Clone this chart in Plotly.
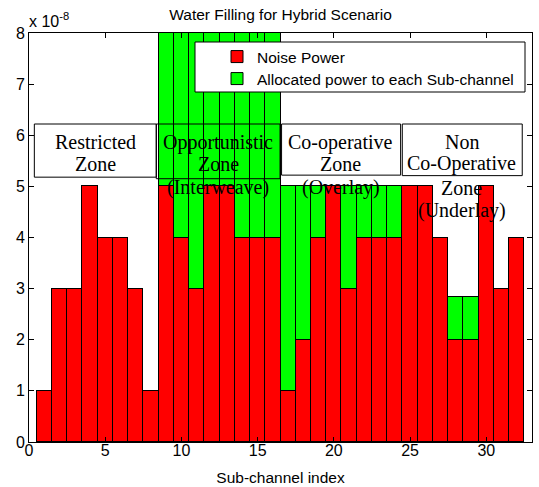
import plotly.graph_objects as go

# ---- data (units of 1e-8) ----
subchannels = list(range(1, 33))
noise_power = [1, 3, 3, 5, 4, 4, 3, 1,
               5, 4, 3, 5, 5, 4, 4, 4,
               1, 2, 4, 5, 3, 4, 4, 4,
               5, 5, 4, 2, 2, 5, 3, 4]
allocated_power = [0, 0, 0, 0, 0, 0, 0, 0,
                   3.6, 4.6, 5.6, 3.6, 3.6, 4.6, 4.6, 4.6,
                   4, 3, 1, 0, 2, 1, 1, 1,
                   0, 0, 0, 0.83, 0.83, 0, 0, 0]
x_ticks = [0, 5, 10, 15, 20, 25, 30]
y_ticks = [0, 1, 2, 3, 4, 5, 6, 7, 8]

# zone label boxes: (x0, x1, y0, y1) in data units, and text lines
zone_boxes = [(0.35, 8.35, 5.18, 6.22),
              (8.35, 16.47, 5.15, 6.22),
              (16.57, 24.38, 5.22, 6.22),
              (24.49, 32.36, 5.21, 6.22)]
zone_lines = [["Restricted", "Zone"],
              ["Opportunistic", "Zone", "(Interweave)"],
              ["Co-operative", "Zone", "(Overlay)"],
              ["Non", "Co-Operative", "Zone", "(Underlay)"]]
zone_centers = [4.35, 12.4, 20.45, 28.4]
line_y = [5.86, 5.44, 4.97, 4.52]

fig = go.Figure()
fig.add_trace(go.Bar(x=subchannels, y=noise_power, name="Noise Power",
                     marker=dict(color="#FF0000", line=dict(color="black", width=1)),
                     legend="legend"))
fig.add_trace(go.Bar(x=subchannels, y=allocated_power,
                     name="Allocated power to each Sub-channel",
                     marker=dict(color="#00FF00", line=dict(color="black", width=1)),
                     legend="legend2"))

shapes = []
annotations = []
for (x0, x1, y0, y1) in zone_boxes:
    shapes.append(dict(type="rect", xref="x", yref="y", x0=x0, x1=x1, y0=y0, y1=y1,
                       line=dict(color="black", width=1), fillcolor="rgba(0,0,0,0)",
                       layer="above"))
for cx, lines in zip(zone_centers, zone_lines):
    for i, t in enumerate(lines):
        annotations.append(dict(x=cx, y=line_y[i], xref="x", yref="y", text=t,
                                showarrow=False, xanchor="center", yanchor="middle",
                                font=dict(family="Liberation Serif", size=20, color="black")))

# legend box
shapes.append(dict(type="rect", xref="paper", yref="paper",
                   x0=(195 - 29) / 503, x1=(525 - 29) / 503,
                   y0=(442 - 92) / 409, y1=(442 - 42) / 409,
                   line=dict(color="black", width=1), fillcolor="white", layer="above"))

annotations.append(dict(x=-0.003, y=(442 - 20) / 409, xref="paper", yref="paper",
                        text="x 10<sup>-8</sup>", showarrow=False, xanchor="left",
                        yanchor="middle",
                        font=dict(family="Liberation Sans", size=16, color="black")))

legend_common = dict(xanchor="left", yanchor="top", bgcolor="rgba(0,0,0,0)",
                     borderwidth=0, font=dict(size=15.5, color="black"))

fig.update_layout(
    width=539, height=487,
    margin=dict(l=29, r=7, t=33, b=45, autoexpand=False),
    paper_bgcolor="white", plot_bgcolor="white",
    barmode="stack", bargap=0,
    font=dict(family="Liberation Sans", size=16, color="black"),
    title=dict(text="Water Filling for Hybrid Scenario", x=(29 + 251.5) / 539,
               xanchor="center", y=1 - 15 / 487, yanchor="middle",
               font=dict(size=15.5, color="black")),
    showlegend=True,
    legend=dict(x=(217 - 29) / 503, y=(442 - 40) / 409, **legend_common),
    legend2=dict(x=(217 - 29) / 503, y=(442 - 62) / 409, **legend_common),
    shapes=shapes,
    annotations=annotations,
    xaxis=dict(range=[0, 33], tickvals=x_ticks, ticks="inside", ticklen=5,
               showline=True, linecolor="black", linewidth=1, mirror="ticks",
               showgrid=False, zeroline=False, tickcolor="black", automargin=False,
               ticklabelstandoff=-6, tickfont=dict(size=16),
               title=dict(text="Sub-channel index", standoff=13,
                          font=dict(size=15.5, color="black"))),
    yaxis=dict(range=[0, 8], tickvals=y_ticks, ticks="inside", ticklen=5,
               showline=True, linecolor="black", linewidth=1, mirror="ticks",
               showgrid=False, zeroline=False, tickcolor="black", automargin=False,
               tickfont=dict(size=16)),
)

fig.write_html("out.html")
